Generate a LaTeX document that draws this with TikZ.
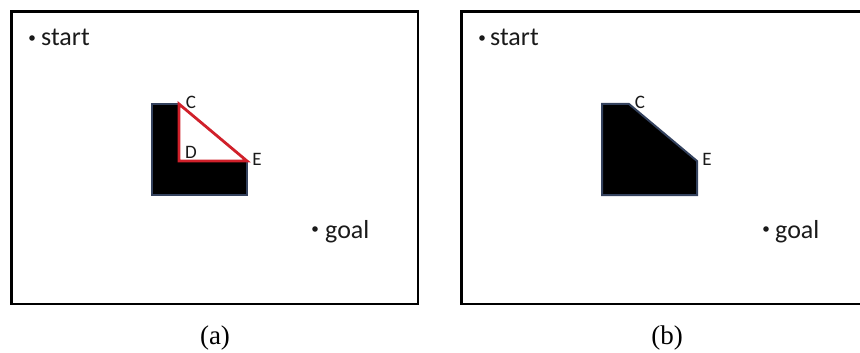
\documentclass[tikz,border=0pt]{standalone}
\usepackage{fontspec}
\setmainfont{Carlito}
\newfontfamily\capfont{Liberation Serif}
\definecolor{obsedge}{HTML}{34425E}
\definecolor{trired}{HTML}{D0202A}
\definecolor{txt}{HTML}{1A1A1A}
\begin{document}
\begin{tikzpicture}[x=1pt,y=-1pt,
  frame/.style={draw=black,line width=2.6pt},
  obstacle/.style={fill=black,draw=obsedge,line width=2pt,line join=miter},
  tri/.style={draw=trired,fill=white,line width=2.8pt,line join=miter},
  pointlbl/.style={font=\fontsize{26}{29}\selectfont,text=txt,inner sep=0pt,anchor=base west},
  cornerlbl/.style={font=\fontsize{19}{21}\selectfont,text=txt,inner sep=0pt},
  sublbl/.style={font=\capfont\fontsize{27}{30}\selectfont,inner sep=0pt},
  dotmark/.style={fill=txt,draw=none}]
\useasboundingbox (0,0) rectangle (860,353);
\clip (0,0) rectangle (860,353);
% ---------- panel (a)
\draw[frame] (11.5,11.5) rectangle (418,304);
\coordinate (aC) at (179,104);
\coordinate (aD) at (179,161);
\coordinate (aE) at (247,161);
\draw[obstacle] (152,104) -- (aC) -- (aD) -- (aE) -- (247,195) -- (152,195) -- cycle;
\draw[tri] (aC) -- (aD) -- (aE) -- cycle;
\node[cornerlbl] (lC) at (191,102) {C};
\node[cornerlbl] (lD) at (191,152) {D};
\node[cornerlbl] (lE) at (257,159) {E};
\fill[dotmark] (32,38) circle (2.8);
\node[pointlbl] (sa) at (41,46) {start};
\fill[dotmark] (315,229) circle (2.8);
\node[pointlbl] (ga) at (325,238) {goal};
\node[sublbl] (capa) at (215,338) {(a)};
% ---------- panel (b)
\draw[frame] (461.5,11.5) rectangle (900,304);
\coordinate (bC) at (629,104);
\coordinate (bE) at (697,161);
\draw[obstacle] (602,104) -- (bC) -- (bE) -- (697,195) -- (602,195) -- cycle;
\node[cornerlbl] (lbC) at (640,102) {C};
\node[cornerlbl] (lbE) at (707,159) {E};
\fill[dotmark] (482,38) circle (2.8);
\node[pointlbl] (sb) at (490,46) {start};
\fill[dotmark] (766,229) circle (2.8);
\node[pointlbl] (gb) at (775,238) {goal};
\node[sublbl] (capb) at (667,338) {(b)};
\end{tikzpicture}
\end{document}
